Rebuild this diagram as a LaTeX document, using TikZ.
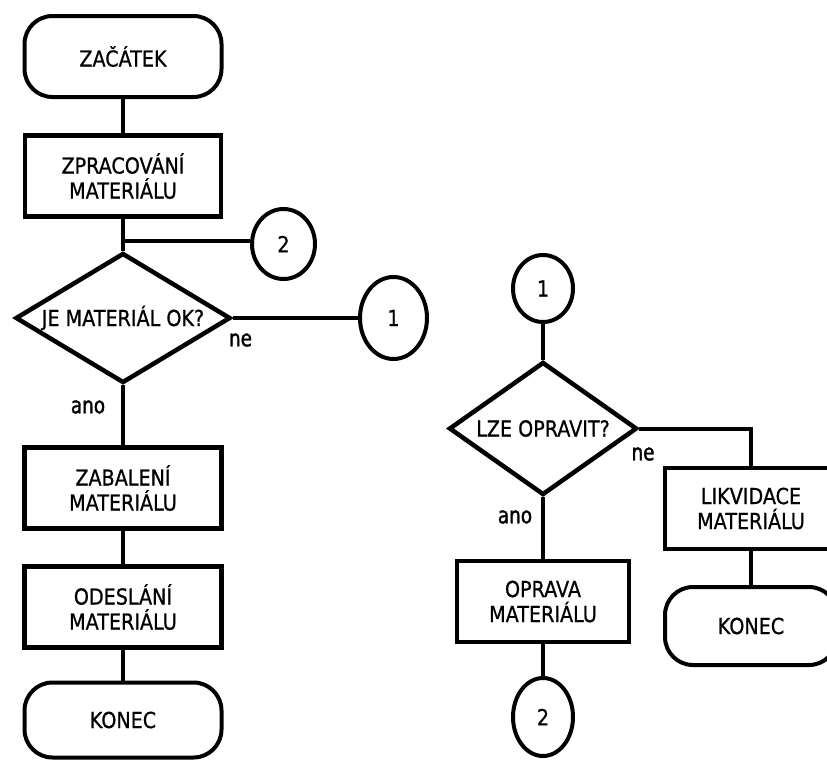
\documentclass[tikz,border=0pt]{standalone}
\usepackage{fontspec}
\setmainfont{DejaVu Sans}
\newfontfamily\chartfam{DejaVu Sans}[FakeStretch=0.87, FakeBold=0.8]
\newfontfamily\labelfam{DejaVu Sans}[FakeStretch=0.8, FakeBold=1.4]
\usetikzlibrary{shapes.geometric}
\newcommand{\chartfont}{\chartfam\fontsize{22pt}{25pt}\selectfont}
\newcommand{\labelfont}{\labelfam\fontsize{23pt}{25pt}\selectfont}
\begin{document}
\begin{tikzpicture}[x=1pt,y=-1pt,
  txt/.style={font=\chartfont, text=black},
  terminal/.style={txt, draw, line width=4pt, rounded corners=28pt, minimum width=197pt,
    minimum height=81pt, inner sep=0pt, align=center},
  process/.style={txt, draw, line width=4.5pt, minimum height=81pt, inner sep=0pt, align=center},
  decision/.style={txt, draw, shape=diamond, line width=4.5pt, inner sep=0pt},
  connector/.style={txt, draw, ellipse, line width=4pt, inner sep=0pt},
  flow/.style={line width=4pt},
  lbl/.style={font=\labelfont, text=black, inner sep=0pt}
]
\useasboundingbox (0,0) rectangle (827,761);
\fill[white] (0,0) rectangle (827,761);
\clip (0,0) rectangle (827,761);

% main flow
\node[terminal] (start) at (123,56.5) {ZAČÁTEK};
\node[process, minimum width=196pt] (prep) at (123,176) {ZPRACOVÁNÍ\\MATERIÁLU};
\node[decision, shape aspect=1.65, minimum width=215pt, minimum height=130pt] (okq) at (123,318) {JE MATERIÁL OK?};
\node[connector, minimum width=63pt, minimum height=70pt] (toB) at (283.5,244) {2};
\node[connector, minimum width=67pt, minimum height=82pt] (toA) at (393.5,318) {1};
\node[process, minimum width=197pt] (pack) at (123,488) {ZABALENÍ\\MATERIÁLU};
\node[process, minimum width=197pt] (ship) at (123,607) {ODESLÁNÍ\\MATERIÁLU};
\node[terminal, minimum height=75pt] (endA) at (123,720) {KONEC};

% repair branch
\node[connector, minimum width=60pt, minimum height=67pt] (fromA) at (543,288.5) {1};
\node[decision, shape aspect=1.41, minimum width=188pt, minimum height=133pt] (fixq) at (543,428.5) {LZE OPRAVIT?};
\node[process, minimum width=172pt] (repair) at (543,601.5) {OPRAVA\\MATERIÁLU};
\node[connector, minimum width=60pt, minimum height=78pt] (fromB) at (543,717) {2};
\node[process, minimum width=172pt] (scrap) at (751,508.5) {LIKVIDACE\\MATERIÁLU};
\node[terminal, minimum width=172pt, minimum height=78pt] (endB) at (751,626) {KONEC};

% connectors
\coordinate (fork) at (123,241);
\draw[flow] (start) -- (prep);
\draw[flow] (prep) -- (okq);
\draw[flow] (fork) -- (fork -| toB.west);
\draw[flow] (okq.east) -- (toA);
\draw[flow] (okq) -- (pack);
\draw[flow] (pack) -- (ship);
\draw[flow] (ship) -- (endA);
\draw[flow] (fromA) -- (fixq);
\draw[flow] (fixq) -- (repair);
\draw[flow] (repair) -- (fromB);
\draw[flow] (fixq.east) -| (scrap.north);
\draw[flow] (scrap) -- (endB);

% branch labels
\node[lbl] (noA) at (240.5,340) {ne};
\node[lbl] (yesA) at (88,407) {ano};
\node[lbl] (noB) at (643,454) {ne};
\node[lbl] (yesB) at (515,517) {ano};
\end{tikzpicture}
\end{document}
